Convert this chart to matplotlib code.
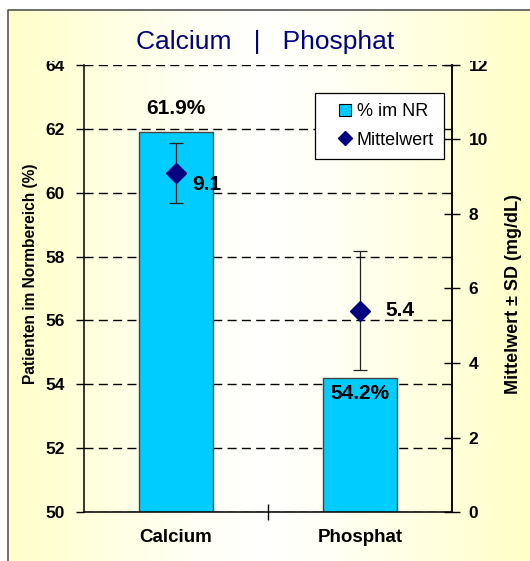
import numpy as np
import matplotlib
matplotlib.use('Agg')
import matplotlib.pyplot as plt
from matplotlib.lines import Line2D
from matplotlib.transforms import Bbox, TransformedBbox

plt.rcParams['font.family'] = ['Liberation Sans', 'DejaVu Sans']

# data ------------------------------------------------------------------------
categories = ['Calcium', 'Phosphat']
pct_in_range = [61.9, 54.2]
mean_vals = [9.1, 5.4]
sd_vals = [0.8, 1.6]
pct_labels = ['61.9%', '54.2%']
mean_labels = ['9.1', '5.4']

BAR_COL = '#00CCFF'
NAVY = '#000080'

fig = plt.figure(figsize=(5.3, 5.61), dpi=100)

# background gradient (yellow edges, white centre) ----------------------------
bg = fig.add_axes([0, 0, 1, 1], zorder=-10)
xs = np.linspace(-1, 1, 400)
w = np.abs(xs) ** 1.2
yel = np.array([1.0, 1.0, 0.78])
row = (1 - w)[:, None] * np.ones(3) + w[:, None] * yel
img = np.repeat(row[None, :, :], 2, axis=0)
bg.imshow(img, aspect='auto', extent=[0, 1, 0, 1])
bg.set_xlim(0, 1)
bg.set_ylim(0, 1)
x0, y0 = 8 / 530, 1 - 10 / 561
bg.fill_between([0, 1], y0, 1, color='white', lw=0)
bg.fill_between([0, x0], 0, 1, color='white', lw=0)
bg.plot([x0, x0, 1], [0, y0, y0], color='#555555', lw=1.2)
bg.axis('off')

# main axes ---------------------------------------------------------------------
AX_POS = [0.1585, 0.0873, 0.6943, 0.797]
ax = fig.add_axes(AX_POS)
ax.patch.set_alpha(0)
x = np.arange(len(categories))
ax.bar(x, pct_in_range, width=0.4, bottom=0, color=BAR_COL,
       edgecolor='#444444', lw=1, zorder=2)
ax.set_xlim(-0.5, 1.5)
ax.set_ylim(50, 64)
ax.set_yticks(np.arange(50, 65, 2))
ax.set_xticks(x)
ax.set_xticklabels(categories, fontsize=13.5, fontweight='bold')
ax.set_xticks([0.5], minor=True)
ax.tick_params(axis='x', which='major', length=0, pad=12)
ax.tick_params(axis='x', which='minor', direction='inout', length=12, width=1)
ax.tick_params(axis='y', direction='out', length=6, width=1, labelsize=12.5,
               pad=8)
for lab in ax.get_yticklabels():
    lab.set_fontweight('bold')
ax.grid(axis='y', color='black', ls=(0, (6.5, 3.8)), lw=1)
ax.set_axisbelow(True)
ax.spines['top'].set_visible(False)
for s in ['left', 'right', 'bottom']:
    ax.spines[s].set_linewidth(1.1)
ax.set_ylabel('Patienten im Normbereich (%)', fontsize=11.2, fontweight='bold')
ax.yaxis.set_label_coords(-0.124, 0.532)

ax.text(x[0], pct_in_range[0] + 0.45, pct_labels[0], ha='center', va='bottom',
        fontsize=15, fontweight='bold')
ax.text(x[1], pct_in_range[1] - 0.2, pct_labels[1], ha='center', va='top',
        fontsize=15, fontweight='bold')

# secondary axis -------------------------------------------------------------
ax2 = ax.twinx()
ax2.errorbar(x, mean_vals, yerr=sd_vals, fmt='D', color=NAVY, ms=10,
             ecolor='#222222', elinewidth=0.9, capsize=5, capthick=0.9, zorder=5)
ax2.set_ylim(0, 12)
ax2.set_yticks(np.arange(0, 13, 2))
ax2.tick_params(axis='y', direction='inout', length=12, width=1, labelsize=12.5,
                pad=6)
for lab in ax2.get_yticklabels():
    lab.set_fontweight('bold')
for s in ['top', 'left', 'bottom']:
    ax2.spines[s].set_visible(False)
ax2.spines['right'].set_linewidth(1.1)
ax2.set_ylabel('Mittelwert ± SD (mg/dL)', fontsize=13, fontweight='bold')
ax2.yaxis.set_label_coords(1.144, 0.488)
label_dx = [0.09, 0.14]
label_dy = [-0.3, 0.0]
for xi, m, lab, dx, dy in zip(x, mean_vals, mean_labels, label_dx, label_dy):
    ax2.text(xi + dx, m + dy, lab, ha='left', va='center',
             fontsize=15, fontweight='bold')

# top tick labels are cut off at the plot-area top, as in the original
clip = TransformedBbox(Bbox([[0, 0], [1, 1 - 61 / 561]]), fig.transFigure)
for a in (ax, ax2):
    top_lab = a.yaxis.get_major_ticks()[-1]
    for t in (top_lab.label1, top_lab.label2):
        t.set_clip_box(clip)
        t.set_clip_on(True)

handles = [Line2D([], [], marker='s', ls='none', color=BAR_COL, mec='black',
                  mew=0.8, ms=8, label='% im NR'),
           Line2D([], [], marker='D', ls='none', color=NAVY, ms=7,
                  label='Mittelwert')]
leg = ax2.legend(handles=handles, loc='upper right',
                 bbox_to_anchor=(0.978, 0.937), fontsize=13, frameon=True,
                 fancybox=False, edgecolor='black', framealpha=1,
                 handlelength=2.2, handletextpad=-0.45, borderpad=0.55,
                 labelspacing=0.65, borderaxespad=0)
leg.get_frame().set_linewidth(0.9)

fig.text(0.5, 0.925, 'Calcium   |   Phosphat', ha='center', va='center',
         fontsize=19, color=NAVY)

fig.savefig('out.png', dpi=100)
